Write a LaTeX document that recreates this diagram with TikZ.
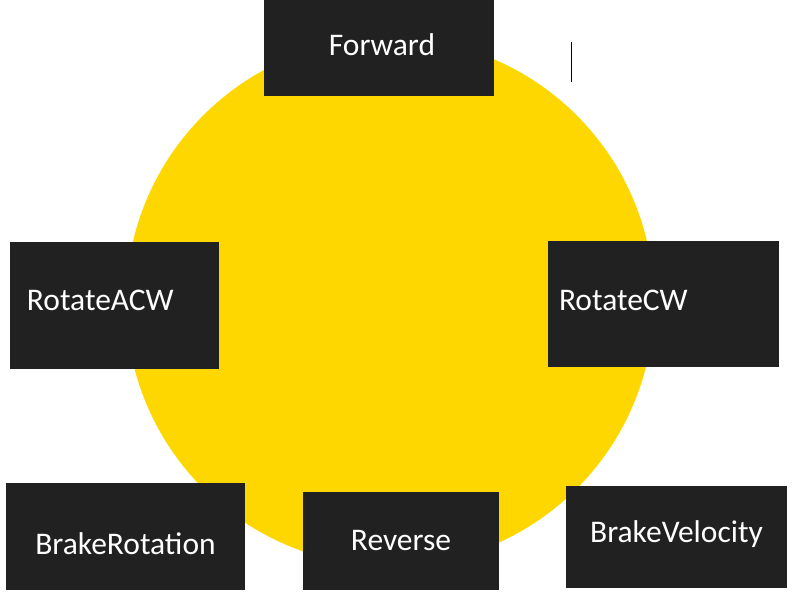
\documentclass[tikz,border=0pt]{standalone}
\usepackage{fontspec}
\setmainfont{Carlito}
\usepackage{tikz}
\usetikzlibrary{positioning}
\definecolor{cY}{HTML}{FFD700}
\definecolor{cK}{HTML}{212121}
\newcommand{\liftby}[2]{\raisebox{#1}[\height][\depth]{#2}}
\tikzset{
  cmdbox/.style={rectangle,fill=cK,text=white,inner sep=0pt,
                 font=\fontsize{31.5}{37}\selectfont},
  leftbox/.style={cmdbox,align=left},
}

\begin{document}
\begin{tikzpicture}[x=1pt,y=-1pt]
  \useasboundingbox (0,0) rectangle (800,600);
  \fill[cY] (390,302) circle[radius=264];
  \node[cmdbox,minimum width=230pt,minimum height=96pt] (fwd) at (379,48) {\hspace{6pt}\liftby{3pt}{Forward}};
  \node[leftbox,inner xsep=17pt,text width=175pt,minimum height=127pt] (racw) at (114.5,305.5) {\liftby{5pt}{RotateACW}};
  \node[leftbox,inner xsep=11pt,text width=209pt,minimum height=126pt] (rcw) at (663.5,304) {\liftby{4pt}{RotateCW}};
  \node[cmdbox,minimum width=239pt,minimum height=107pt] (brot) at (125.5,536.5) {\liftby{-7pt}{BrakeRotation}};
  \node[cmdbox,minimum width=196pt,minimum height=98pt] (rev) at (401,541) {Reverse};
  \node[cmdbox,minimum width=221pt,minimum height=102pt] (bvel) at (676.5,537) {\liftby{3pt}{BrakeVelocity}};
  % cursor mark
  \coordinate (ctop) at (571,42);
  \coordinate (cbot) at (571,82);
  \draw[line width=1pt,black] (ctop) -- (cbot);
\end{tikzpicture}
\end{document}
